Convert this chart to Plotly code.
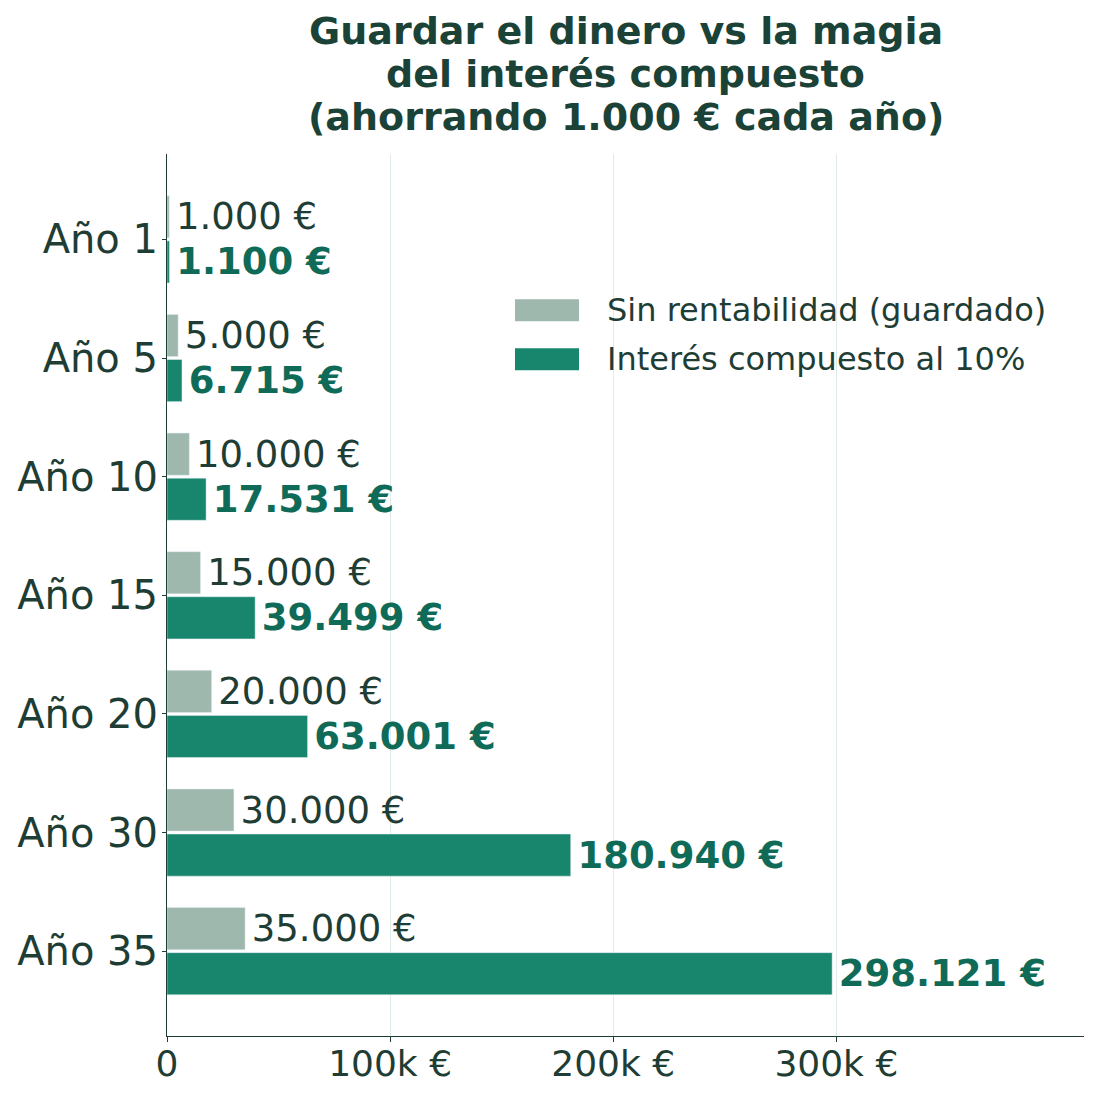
import plotly.graph_objects as go

# Años y saldo acumulado (ahorrando 1.000 € al año)
years = ['Año 1', 'Año 5', 'Año 10', 'Año 15', 'Año 20', 'Año 30', 'Año 35']
saved = [1000, 5000, 10000, 15000, 20000, 30000, 35000]
compound = [1100, 6715, 17531, 39499, 63001, 180940, 298121]
series_names = ['Sin rentabilidad (guardado)', 'Interés compuesto al 10%']
series_colors = ['#9fb8ae', '#17866d']

tick_vals = [0, 100000, 200000, 300000]
tick_text = ['0', '100k €', '200k €', '300k €']

title_lines = ['Guardar el dinero vs la magia', 'del interés compuesto',
               '(ahorrando 1.000 € cada año)']

fig = go.Figure()
fig.add_trace(go.Bar(
    y=years, x=saved, orientation='h',
    name=series_names[0], marker_color=series_colors[0],
    texttemplate='\u200a%{x:,.0f} €', textposition='outside',
    textfont=dict(size=37, color='#1e3d35'),
    constraintext='none', cliponaxis=False,
))
fig.add_trace(go.Bar(
    y=years, x=compound, orientation='h',
    name=series_names[1], marker_color=series_colors[1],
    texttemplate='\u200a<b>%{x:,.0f} €</b>', textposition='outside',
    textfont=dict(size=37, color='#0f6b57'),
    constraintext='none', cliponaxis=False,
))

# título en tres líneas (interlineado más apretado que el de plotly)
for line, ty in zip(title_lines, [1.1396, 1.0908, 1.0420]):
    fig.add_annotation(xref='paper', yref='paper', x=0.5, y=ty,
                       xanchor='center', yanchor='middle', showarrow=False,
                       text='<b>' + line + '</b>',
                       font=dict(size=38, color='#1b4237'))

# leyenda dibujada a mano (muestras anchas como en el original)
legend_y = [0.8229, 0.7673]
for name, color, ly in zip(series_names, series_colors, legend_y):
    fig.add_shape(type='rect', xref='paper', yref='paper',
                  x0=0.3795, x1=0.4493, y0=ly - 0.0125, y1=ly + 0.0125,
                  fillcolor=color, line_width=0)
    fig.add_annotation(xref='paper', yref='paper', x=0.4776, y=ly,
                       xanchor='left', yanchor='middle', showarrow=False,
                       text=name, font=dict(size=32, color='#1e3d35'))

fig.update_layout(
    width=1100, height=1100,
    separators=',.',
    barmode='group', bargap=0.24, bargroupgap=0.065,
    plot_bgcolor='white', paper_bgcolor='white',
    font=dict(family='DejaVu Sans', color='#1e3d35'),
    margin=dict(l=159, r=24, t=146, b=72),
    showlegend=False,
)
fig.update_xaxes(
    range=[0, 411000], tickvals=tick_vals, ticktext=tick_text,
    showgrid=True, gridcolor='#e0ebe8', gridwidth=1,
    showline=True, linecolor='#1e3d35', linewidth=1,
    ticks='outside', ticklen=5, tickcolor='#1e3d35',
    tickfont=dict(size=36, color='#1e3d35'), zeroline=False,
    ticklabelstandoff=-9, automargin=False,
)
fig.update_yaxes(
    range=[6.715, -0.72],
    showline=True, linecolor='#1e3d35', linewidth=1,
    ticks='outside', ticklen=4, tickcolor='#1e3d35',
    tickfont=dict(size=40, color='#1e3d35'), showgrid=False,
    ticklabelstandoff=-4, automargin=False,
)

fig.write_html('out.html')
